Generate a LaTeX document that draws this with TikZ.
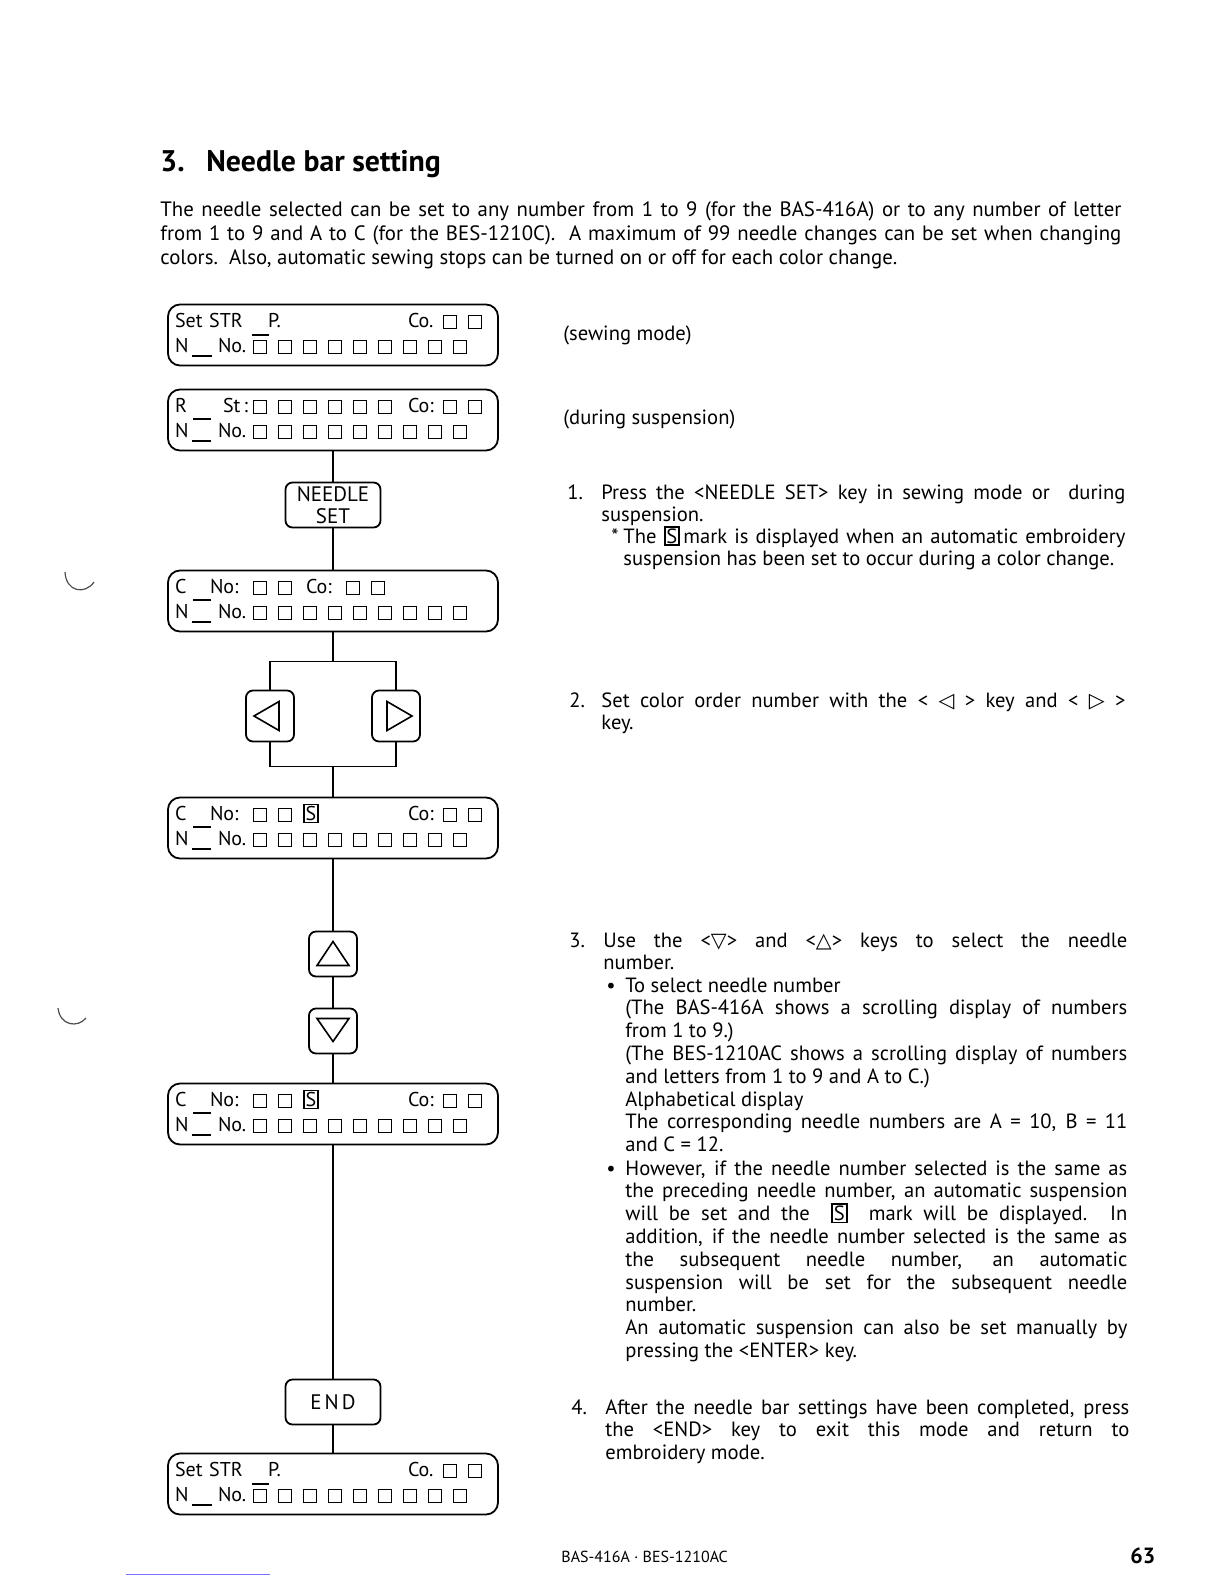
\documentclass[tikz,border=0pt]{standalone}
\usepackage{fontspec}
\setmainfont{PT Sans}
\newfontfamily\symfont{DejaVu Sans}
\usetikzlibrary{positioning}

\tolerance=9999
\hyphenpenalty=10000
\exhyphenpenalty=10000

\newcommand{\bodyfont}{\fontsize{10.3}{11.4}\selectfont}
\newcommand{\introfont}{\fontsize{10.4}{12}\selectfont}
\newcommand{\lcdfont}{\fontsize{10}{12.5}\selectfont}
\newcommand{\keyfont}{\fontsize{10.5}{11}\selectfont}

% display cells
\newcommand{\lcdcell}{{\setlength{\fboxsep}{0pt}\setlength{\fboxrule}{0.5pt}\fbox{\rule{0pt}{6pt}\hspace{6pt}}}}
\newcommand{\dcell}{\makebox[12.5pt][l]{\lcdcell}}
\newcommand{\barcell}{\makebox[12.5pt][l]{\rlap{\hspace{-0.5pt}\rule[8.5pt]{8.5pt}{0.9pt}}\lcdcell}}
\newcommand{\smark}{{\setlength{\fboxsep}{0.4pt}\setlength{\fboxrule}{0.9pt}\fbox{S}}}
\newcommand{\nlow}{\makebox[8.5pt][l]{N}\makebox[13pt][l]{\rule[-2pt]{10pt}{0.9pt}}}
\newcommand{\nbox}{\makebox[8.5pt][l]{N}\makebox[13pt][l]{\rlap{\rule[-2pt]{9.5pt}{0.9pt}}\hspace{0.5pt}\rule[9pt]{9pt}{0.9pt}}}

\begin{document}
\begin{tikzpicture}[
  x=0.5pt, y=-0.5pt,
  lcd/.style={draw, line width=0.9pt, rounded corners=6pt, minimum width=165pt, minimum height=30.5pt, outer sep=0pt,
    text width=158pt, inner xsep=3.5pt, inner ysep=4pt, text height=7.5pt, text depth=15pt, align=left, font=\lcdfont},
  key/.style={draw, line width=0.9pt, rounded corners=3.5pt, inner sep=0pt, outer sep=0pt, align=center},
  widekey/.style={key, minimum width=47.5pt, minimum height=22.5pt, font=\keyfont},
  sidekey/.style={key, minimum width=24pt, minimum height=25.5pt},
  updown/.style={key, minimum width=24pt, minimum height=22.5pt},
  tri/.style={line width=0.8pt, line join=miter},
  link/.style={line width=0.9pt},
  txt/.style={inner sep=0pt, anchor=base west, font=\bodyfont},
  para/.style={txt, align=justify, text width=#1}
]
\useasboundingbox (0,0) rectangle (1224,1584);

% heading
\node[inner sep=0pt, anchor=base west, font=\fontsize{14.9}{17}\selectfont\bfseries] (title) at (160,171)
  {\makebox[23pt][l]{3.}Needle bar setting};
\node[para=480.5pt, font=\introfont] (intro) at (160,216)
  {The needle selected can be set to any number from 1 to 9 (for the BAS-416A) or to any number of letter\linebreak
   from 1 to 9 and A to C (for the BES-1210C).\ \ A maximum of 99 needle changes can be set when changing\linebreak
   colors.\ \ Also, automatic sewing stops can be turned on or off for each color change.};

% flow of displays and keys
\node[lcd] (sew) at (333,335)
  {\makebox[46.5pt][l]{Set STR}\makebox[70pt][l]{P.}\makebox[17.5pt][l]{Co.}\dcell\lcdcell\\
   \nlow\makebox[17.5pt][l]{No.}\barcell\dcell\dcell\dcell\dcell\dcell\dcell\dcell\lcdcell};
\node[lcd, below=12pt of sew] (susp)
  {\makebox[24pt][l]{R}\makebox[15pt][l]{St\,:}\dcell\dcell\dcell\dcell\dcell\dcell\hspace{2.5pt}\makebox[17.5pt][l]{Co:}\dcell\lcdcell\\
   \nbox\makebox[17.5pt][l]{No.}\dcell\dcell\dcell\dcell\dcell\dcell\dcell\dcell\lcdcell};
\node[widekey, below=16pt of susp] (needle) {NEEDLE\\SET};
\node[lcd, below=21.5pt of needle] (cnum)
  {\makebox[17.5pt][l]{C}\makebox[21.5pt][l]{No:}\dcell\makebox[14pt][l]{\lcdcell}\makebox[20pt][l]{Co:}\dcell\lcdcell\\
   \nbox\makebox[17.5pt][l]{No.}\dcell\dcell\dcell\dcell\dcell\dcell\dcell\dcell\lcdcell};
\coordinate[below=15pt of cnum] (ftop);
\node[sidekey, below=14.5pt of ftop, xshift=-31.5pt] (left) {};
\node[sidekey, below=14.5pt of ftop, xshift=31.5pt] (right) {};
\path (ftop |- left.south) ++(0,25) coordinate (fbot);
\node[lcd, below=15.5pt of fbot] (cmark)
  {\makebox[17.5pt][l]{C}\makebox[21.5pt][l]{No:}\dcell\dcell\makebox[52.5pt][l]{\smark}\makebox[17.5pt][l]{Co:}\dcell\lcdcell\\
   \nbox\makebox[17.5pt][l]{No.}\dcell\dcell\dcell\dcell\dcell\dcell\dcell\dcell\lcdcell};
\node[updown, below=36.5pt of cmark] (up) {};
\node[updown, below=16pt of up] (down) {};
\node[lcd, below=15pt of down] (cneedle)
  {\makebox[17.5pt][l]{C}\makebox[21.5pt][l]{No:}\dcell\dcell\makebox[52.5pt][l]{\smark}\makebox[17.5pt][l]{Co:}\dcell\lcdcell\\
   \nbox\makebox[17.5pt][l]{No.}\dcell\dcell\dcell\dcell\dcell\dcell\dcell\dcell\lcdcell};
\node[widekey, below=117.5pt of cneedle] (endkey) {E\hspace{1.5pt}N\hspace{1.5pt}D};
\node[lcd, below=14.5pt of endkey] (back)
  {\makebox[46.5pt][l]{Set STR}\makebox[70pt][l]{P.}\makebox[17.5pt][l]{Co.}\dcell\lcdcell\\
   \nlow\makebox[17.5pt][l]{No.}\barcell\dcell\dcell\dcell\dcell\dcell\dcell\dcell\lcdcell};

% key symbols
\draw[tri] ([shift={(-16,0)}]left.center) -- ++(25,-14.5) -- ++(0,29) -- cycle;
\draw[tri] ([shift={(16,0)}]right.center) -- ++(-25,-14.5) -- ++(0,29) -- cycle;
\draw[tri] ([shift={(0,-12.5)}]up.center) -- ++(16,24) -- ++(-32,0) -- cycle;
\draw[tri] ([shift={(0,10.5)}]down.center) -- ++(16,-23) -- ++(-32,0) -- cycle;

% connectors
\draw[link] (susp) -- (needle);
\draw[link] (needle) -- (cnum);
\draw[link] (cnum) -- (ftop);
\draw[link] (left) -- (left |- ftop) -- (right |- ftop) -- (right);
\draw[link] (left) -- (left |- fbot) -- (right |- fbot) -- (right);
\draw[link] (fbot) -- (cmark);
\draw[link] (cmark) -- (up);
\draw[link] (up) -- (down);
\draw[link] (down) -- (cneedle);
\draw[link] (cneedle) -- (endkey);
\draw[link] (endkey) -- (back);

% explanations
\node[txt] (sewmode) at (563,340) {(sewing mode)};
\node[txt] (suspmode) at (563,424) {(during suspension)};

\node[txt] (n1) at (567,499) {1.};
\node[para=262pt] (s1) at (601,499)
  {Press the <NEEDLE SET> key in sewing mode or \ during\linebreak suspension.};
\node[txt] (star) at (611,543) {*};
\node[para=251pt] (note1) at (623,543)
  {The \smark\,mark is displayed when an automatic embroidery\linebreak
   suspension has been set to occur during a color change.};

\node[txt] (n2) at (569,707) {2.};
\node[para=262pt] (s2) at (601,707)
  {Set color order number with the < {\symfont ◁} > key and < {\symfont ▷} >\linebreak key.};

\node[txt] (n3) at (569,947) {3.};
\node[para=262pt] (s3) at (603,947)
  {Use the <{\symfont ▽}> and <{\symfont △}> keys to select the needle\linebreak number.};
\node[txt] (dot1) at (606,992) {•};
\node[para=251pt] (t1) at (625,992)
  {To select needle number\par
   (The BAS-416A shows a scrolling display of numbers\linebreak from 1 to 9.)\par
   (The BES-1210AC shows a scrolling display of numbers\linebreak and letters from 1 to 9 and A to C.)\par
   Alphabetical display\par
   The corresponding needle numbers are A = 10, B = 11\linebreak and C = 12.};
\node[txt] (dot2) at (606,1175) {•};
\node[para=251pt] (t2) at (625,1175)
  {However, if the needle number selected is the same as\linebreak
   the preceding needle number, an automatic suspension\linebreak
   will be set and the \ \smark\ \ mark will be displayed. In\linebreak
   addition, if the needle number selected is the same as\linebreak
   the subsequent needle number, an automatic\linebreak
   suspension will be set for the subsequent needle\linebreak
   number.\par
   An automatic suspension can also be set manually by\linebreak
   pressing the <ENTER> key.};

\node[txt] (n4) at (571,1414) {4.};
\node[para=262pt] (s4) at (605,1414)
  {After the needle bar settings have been completed, press\linebreak
   the <END> key to exit this mode and return to\linebreak
   embroidery mode.};

% footer
\node[txt, font=\fontsize{8}{10}\selectfont] (foot) at (561,1562) {BAS-416A · BES-1210AC};
\node[txt, font=\fontsize{11}{13}\selectfont\bfseries] (page) at (1130,1563) {63};

% scan marks
\draw[blue!55, line width=0.5pt] (126,1574) -- (270,1574);
\draw[black!70, line width=0.6pt] (65,572) .. controls (66,592) and (85,595) .. (94,582);
\draw[black!70, line width=0.6pt] (58,1008) .. controls (60,1026) and (78,1028) .. (86,1018);
\end{tikzpicture}
\end{document}
